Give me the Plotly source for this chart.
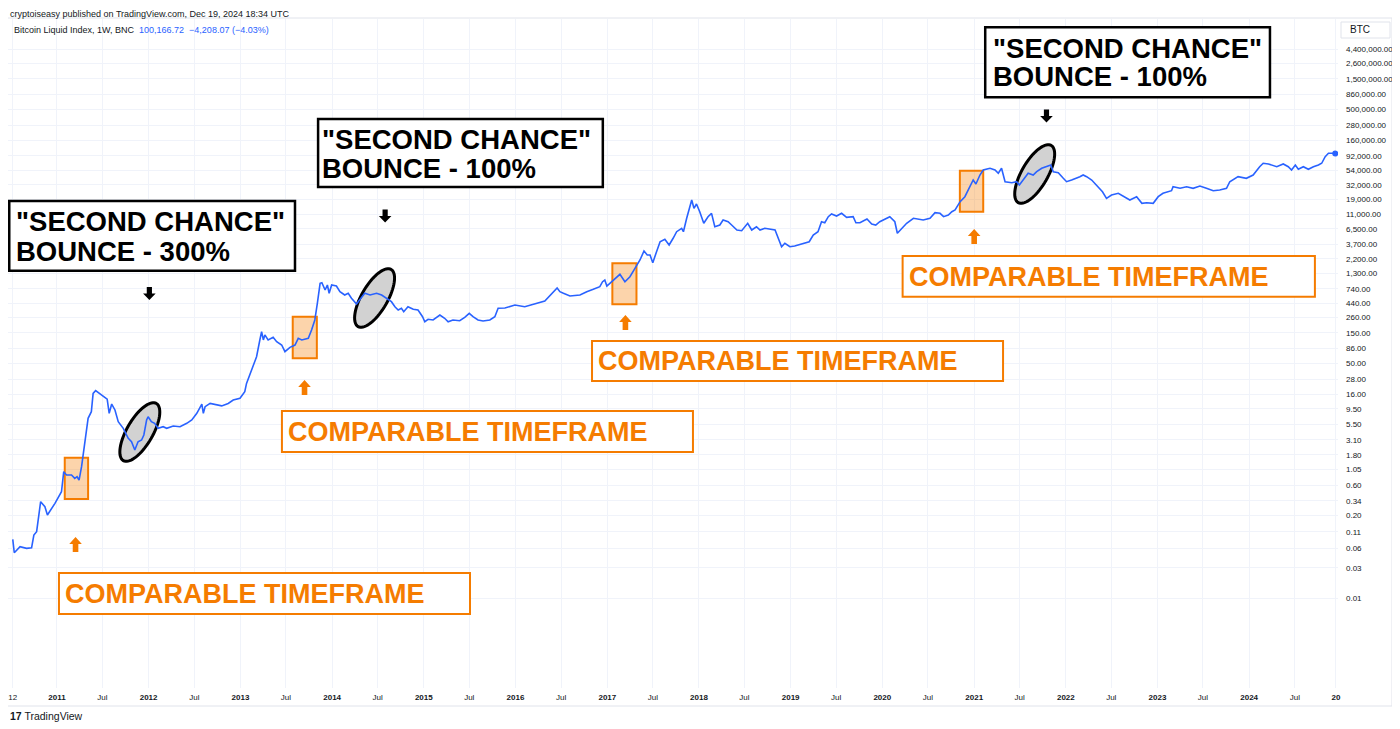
import math
import numpy as np
import plotly.graph_objects as go

# ---------------- data ----------------
dates = [
    "2010-07-09", "2010-07-15", "2010-08-07", "2010-09-02", "2010-09-22", "2010-10-01", "2010-10-12",
    "2010-10-28", "2010-11-14", "2010-11-24", "2010-12-24", "2011-01-19", "2011-01-28", "2011-02-08",
    "2011-02-28", "2011-03-13", "2011-03-22", "2011-03-30", "2011-04-09", "2011-04-22", "2011-05-05",
    "2011-05-18", "2011-05-25", "2011-06-04", "2011-06-21", "2011-07-11", "2011-07-20", "2011-07-28",
    "2011-08-07", "2011-08-20", "2011-09-02", "2011-09-22", "2011-10-12", "2011-10-25", "2011-11-07",
    "2011-11-20", "2011-12-04", "2011-12-13", "2011-12-24", "2011-12-30", "2012-01-12", "2012-01-25",
    "2012-02-08", "2012-02-28", "2012-03-13", "2012-04-08", "2012-05-05", "2012-06-01", "2012-06-21",
    "2012-07-11", "2012-07-24", "2012-07-31", "2012-08-06", "2012-08-13", "2012-09-02", "2012-09-29",
    "2012-10-18", "2012-11-13", "2012-12-03", "2012-12-30", "2013-01-18", "2013-01-25", "2013-02-20",
    "2013-03-06", "2013-03-19", "2013-03-26", "2013-04-02", "2013-04-08", "2013-04-21", "2013-05-11",
    "2013-05-25", "2013-06-14", "2013-06-27", "2013-07-17", "2013-08-06", "2013-08-19", "2013-09-02",
    "2013-09-28", "2013-10-11", "2013-10-24", "2013-11-03", "2013-11-14", "2013-11-21", "2013-12-04",
    "2013-12-13", "2013-12-20", "2013-12-30", "2014-01-18", "2014-02-01", "2014-02-20", "2014-03-06",
    "2014-03-19", "2014-04-08", "2014-04-21", "2014-05-11", "2014-06-01", "2014-06-27", "2014-07-17",
    "2014-08-06", "2014-08-25", "2014-09-08", "2014-09-21", "2014-10-04", "2014-10-13", "2014-10-30",
    "2014-11-20", "2014-12-09", "2014-12-27", "2015-01-05", "2015-01-18", "2015-02-07", "2015-03-06",
    "2015-03-25", "2015-04-08", "2015-04-27", "2015-05-24", "2015-06-13", "2015-07-01", "2015-07-16",
    "2015-08-05", "2015-08-25", "2015-09-21", "2015-10-11", "2015-10-24", "2015-11-20", "2015-12-30",
    "2016-02-07", "2016-03-19", "2016-04-27", "2016-06-15", "2016-06-26", "2016-07-10", "2016-08-05",
    "2016-09-14", "2016-10-11", "2016-11-06", "2016-12-02", "2016-12-13", "2016-12-22", "2016-12-30",
    "2017-01-24", "2017-02-20", "2017-03-12", "2017-04-01", "2017-04-21", "2017-05-11", "2017-05-27",
    "2017-06-09", "2017-06-20", "2017-07-01", "2017-07-16", "2017-07-30", "2017-08-18", "2017-09-04",
    "2017-09-20", "2017-10-04", "2017-10-24", "2017-10-31", "2017-11-13", "2017-11-26", "2017-12-03",
    "2017-12-12", "2017-12-22", "2018-01-04", "2018-01-20", "2018-02-06", "2018-02-20", "2018-03-05",
    "2018-03-25", "2018-04-07", "2018-04-27", "2018-05-11", "2018-06-01", "2018-06-20", "2018-07-14",
    "2018-07-30", "2018-08-18", "2018-09-01", "2018-09-20", "2018-10-31", "2018-11-12", "2018-11-26",
    "2018-12-09", "2018-12-29", "2019-01-17", "2019-02-20", "2019-03-16", "2019-04-01", "2019-04-20",
    "2019-05-04", "2019-05-17", "2019-05-31", "2019-06-13", "2019-07-03", "2019-07-23", "2019-08-12",
    "2019-09-07", "2019-09-18", "2019-10-04", "2019-11-01", "2019-11-20", "2019-12-06", "2019-12-22",
    "2020-01-31", "2020-02-20", "2020-03-01", "2020-03-18", "2020-04-07", "2020-05-04", "2020-06-12",
    "2020-07-09", "2020-07-29", "2020-08-18", "2020-09-01", "2020-09-20", "2020-10-04", "2020-10-17",
    "2020-11-06", "2020-11-25", "2020-12-12", "2020-12-28", "2021-01-08", "2021-01-24", "2021-02-06",
    "2021-02-20", "2021-03-05", "2021-03-25", "2021-04-07", "2021-04-20", "2021-05-04", "2021-05-31",
    "2021-06-19", "2021-06-30", "2021-07-15", "2021-08-04", "2021-08-24", "2021-09-07", "2021-09-27",
    "2021-10-17", "2021-11-02", "2021-11-12", "2021-12-02", "2021-12-22", "2022-01-04", "2022-01-24",
    "2022-02-13", "2022-02-26", "2022-03-11", "2022-03-25", "2022-04-14", "2022-05-04", "2022-05-27",
    "2022-06-12", "2022-07-02", "2022-07-29", "2022-08-24", "2022-09-13", "2022-10-10", "2022-10-31",
    "2022-11-19", "2022-12-15", "2023-01-04", "2023-01-23", "2023-02-26", "2023-03-04", "2023-04-01",
    "2023-04-27", "2023-05-23", "2023-06-19", "2023-07-15", "2023-08-11", "2023-09-06", "2023-10-03",
    "2023-10-16", "2023-11-18", "2023-12-21", "2024-01-17", "2024-02-12", "2024-02-26", "2024-03-18",
    "2024-04-20", "2024-05-16", "2024-06-05", "2024-06-18", "2024-07-03", "2024-07-15", "2024-08-04",
    "2024-08-24", "2024-09-13", "2024-10-03", "2024-10-16", "2024-10-30", "2024-11-12", "2024-11-25",
    "2024-12-09",
]
prices = [
    0.084, 0.0516, 0.0643, 0.0606, 0.062, 0.098, 0.111,
    0.329, 0.274, 0.203, 0.310, 0.472, 0.975, 0.865,
    0.865, 0.767, 0.813, 0.721, 1.17, 3.08, 6.76,
    8.59, 16.7, 18.4, 16.3, 14.0, 13.5, 8.11,
    11.35, 9.14, 5.97, 4.70, 3.27, 2.89, 2.14,
    2.89, 3.08, 3.69, 6.35, 7.16, 5.97, 5.64,
    4.70, 4.99, 4.70, 5.11, 4.99, 5.64, 6.35,
    8.11, 10.3, 11.35, 8.11, 10.3, 11.6, 10.9,
    10.6, 11.6, 13.1, 14.0, 17.7, 24.0, 43.9,
    63.1, 115.6, 156, 116, 139, 116, 128,
    109, 96.4, 75.7, 88.7, 96.4, 123, 116,
    123, 166, 239, 437, 903, 923, 708,
    849, 629, 849, 819, 667, 591, 629,
    525, 427, 493, 629, 591, 629, 591,
    525, 464, 387, 343, 365, 323, 387,
    352, 343, 269, 224, 245, 239, 286,
    254, 224, 239, 233, 263, 304, 269,
    239, 230, 239, 269, 365, 369, 411,
    387, 427, 475, 762, 667, 629, 570,
    591, 667, 727, 799, 957, 1018, 819,
    1018, 1253, 957, 1148, 1556, 2104, 2915,
    2522, 2522, 1906, 2842, 4083, 4457, 3622,
    4624, 5870, 6637, 5870, 9550, 14530, 18530,
    13710, 16030, 12110, 7960, 10110, 11430, 7030,
    7480, 8970, 8430, 7480, 6240, 6083, 7960,
    6240, 7030, 6240, 6637, 6240, 4624, 3406,
    3855, 3406, 3493, 3855, 4083, 5210, 5870,
    8430, 8130, 10110, 11150, 10370, 11430, 9890,
    10110, 8130, 8130, 9310, 7760, 7480, 8430,
    10110, 8430, 5540, 6637, 7960, 9550, 8970,
    9550, 11690, 11430, 10110, 10740, 12110, 12890,
    17420, 20890, 28310, 38260, 33110, 45840, 54950,
    56370, 58480, 54950, 48750, 58480, 35970, 34670,
    35970, 31920, 38260, 48750, 45840, 51660, 58480,
    61940, 65900, 51660, 49890, 40640, 35970, 38260,
    40640, 43150, 45840, 43150, 38260, 31920, 25010,
    19680, 22200, 23610, 20890, 18530, 20890, 16440,
    16800, 16440, 20890, 23610, 25940, 29990, 28310,
    29990, 28310, 30760, 28310, 25940, 26610, 28310,
    35970, 43150, 40640, 45840, 61940, 70150, 68390,
    61940, 68390, 61940, 54950, 65900, 56370, 61940,
    56370, 61940, 65900, 70150, 89130, 100700, 100700,
    100166.72,
]

y_tick_values = [0.01, 0.03, 0.06, 0.11, 0.20, 0.34, 0.60, 1.05, 1.80, 3.10, 5.50, 9.50, 16, 28, 50,
                 86, 150, 260, 440, 740, 1300, 2200, 3700, 6500, 11000, 19000, 32000, 54000, 92000,
                 160000, 280000, 500000, 860000, 1500000, 2600000, 4400000]
y_tick_labels = [f"{v:,.2f}" for v in y_tick_values]

x_tick_dates = ["2010-07-09"]
x_tick_labels = ["12"]
for yr in range(2011, 2025):
    x_tick_dates += [f"{yr}-01-01", f"{yr}-07-01"]
    x_tick_labels += [f"<b>{yr}</b>", "Jul"]
x_tick_dates.append("2024-12-12")
x_tick_labels.append("<b>20</b>")

# annotation anchors (date, price)
highlight_ranges = [  # comparable timeframe rectangles: start, end, low, high
    ("2011-02-01", "2011-05-05", 0.362, 1.62),
    ("2013-07-28", "2013-11-01", 59.6, 269),
    ("2017-01-21", "2017-04-27", 422, 1866),
    ("2020-11-05", "2021-02-06", 12110, 53580),
]
bounce_centers = [("2011-11-27", 4.11), ("2014-06-19", 530), ("2021-08-30", 47530)]
black_arrow_at = [("2012-01-04", 624), ("2014-07-31", 10370), ("2021-10-16", 390000)]
orange_arrow_at = [("2011-03-16", 0.0697), ("2013-09-13", 20.6), ("2017-03-14", 218), ("2021-01-01", 4930)]
orange_boxes = [  # x0, x1, low, high, text x, text price
    ("2011-01-09", "2015-07-04", 0.0056, 0.0248, "2011-02-06", 0.01156),
    ("2013-06-15", "2017-12-08", 1.99, 8.81, "2013-07-13", 4.11),
    ("2016-11-01", "2021-04-26", 26.1, 111.5, "2016-11-28", 54.0),
    ("2020-03-22", "2024-09-19", 556, 2432, "2020-04-20", 1148),
]
black_boxes = [  # x0, x1, low, high, text x, line1 price, line2 price, bounce
    ("2010-06-25", "2013-08-06", 1426, 17860, "2010-07-26", 8650, 2842, "300%"),
    ("2013-11-06", "2016-12-14", 29650, 349000, "2013-11-26", 169000, 59100, "100%"),
    ("2021-02-14", "2024-03-24", 767000, 9.71e6, "2021-03-19", 4.54e6, 1.62e6, "100%"),
]

# ---------------- figure ----------------
# The page body has an 8px margin, so the figure covers page pixels 8..1400 x 8..729.
OFF = 8
W, H = 1400 - OFF, 729 - OFF
ML, MR, MT, MB = 0, 62, 11, 41
Y_RANGE = [-3.417, 7.118]
X_RANGE = ["2010-06-20", "2024-12-20"]
BLUE = "#2962ff"
ORANGE = "#f57c00"
TXT = "#131722"
BIG_FONT = "Liberation Sans, Arial, sans-serif"
UI_FONT = "Liberation Sans, Arial, sans-serif"


def px_x(px):
    return (px - OFF - ML) / (W - ML - MR)


def px_y(py):
    return (OFF + H - MB - py) / (H - MT - MB)


fig = go.Figure()
fig.add_trace(go.Scatter(x=dates, y=prices, mode="lines",
                         line=dict(color=BLUE, width=1.6), showlegend=False, hoverinfo="skip"))
fig.add_trace(go.Scatter(x=dates[-1:], y=prices[-1:], mode="markers",
                         marker=dict(color=BLUE, size=6), showlegend=False, hoverinfo="skip"))

shapes = []
for x0, x1, lo, hi in highlight_ranges:
    shapes.append(dict(type="rect", xref="x", yref="y", x0=x0, x1=x1, y0=lo, y1=hi,
                       line=dict(color=ORANGE, width=2), fillcolor="rgba(245,124,0,0.33)",
                       layer="between"))

a, b, th = 33.0, 13.0, math.radians(60)
t = np.linspace(0, 2 * np.pi, 73)
ex = a * np.cos(t) * math.cos(th) - b * np.sin(t) * math.sin(th)
ey = a * np.cos(t) * math.sin(th) + b * np.sin(t) * math.cos(th)
ell_path = "M " + " L ".join(f"{x:.2f},{y:.2f}" for x, y in zip(ex, ey)) + " Z"
for d, p in bounce_centers:
    shapes.append(dict(type="path", xref="x", yref="y", xsizemode="pixel", ysizemode="pixel",
                       xanchor=d, yanchor=p, path=ell_path,
                       line=dict(color="black", width=3), fillcolor="rgba(208,208,208,0.95)",
                       layer="between"))

down_arrow = "M 0,-6.5 L 6.3,0 L 2.6,0 L 2.6,6.5 L -2.6,6.5 L -2.6,0 L -6.3,0 Z"
up_arrow = "M 0,7.5 L 6.3,0.5 L 2.8,0.5 L 2.8,-7.5 L -2.8,-7.5 L -2.8,0.5 L -6.3,0.5 Z"
for d, p in black_arrow_at:
    shapes.append(dict(type="path", xref="x", yref="y", xsizemode="pixel", ysizemode="pixel",
                       xanchor=d, yanchor=p, path=down_arrow, line=dict(width=0), fillcolor="black"))
for d, p in orange_arrow_at:
    shapes.append(dict(type="path", xref="x", yref="y", xsizemode="pixel", ysizemode="pixel",
                       xanchor=d, yanchor=p, path=up_arrow, line=dict(width=0), fillcolor=ORANGE))

annotations = []
for x0, x1, lo, hi, tx, tp in orange_boxes:
    shapes.append(dict(type="rect", xref="x", yref="y", x0=x0, x1=x1, y0=lo, y1=hi,
                       line=dict(color=ORANGE, width=2), fillcolor="white"))
    annotations.append(dict(x=tx, y=math.log10(tp), xref="x", yref="y", text="<b>COMPARABLE TIMEFRAME</b>",
                            showarrow=False, xanchor="left", yanchor="middle", xshift=-3,
                            font=dict(family=BIG_FONT, size=27, color=ORANGE)))
for x0, x1, lo, hi, tx, p1, p2, pct in black_boxes:
    shapes.append(dict(type="rect", xref="x", yref="y", x0=x0, x1=x1, y0=lo, y1=hi,
                       line=dict(color="black", width=2.5), fillcolor="white"))
    annotations.append(dict(x=tx, y=math.log10(p1), xref="x", yref="y", text='<b>"SECOND CHANCE"</b>',
                            showarrow=False, xanchor="left", yanchor="middle", xshift=-3,
                            font=dict(family=BIG_FONT, size=27.5, color="black")))
    annotations.append(dict(x=tx, y=math.log10(p2), xref="x", yref="y", text=f"<b>BOUNCE - {pct}</b>",
                            showarrow=False, xanchor="left", yanchor="middle", xshift=-3,
                            font=dict(family=BIG_FONT, size=27.5, color="black")))

# chrome: outer frame, BTC box, header and footer texts
shapes.append(dict(type="rect", xref="paper", yref="paper", x0=px_x(4), x1=px_x(1392),
                   y0=px_y(706), y1=px_y(18), line=dict(color="#e0e3eb", width=1), layer="below"))
shapes.append(dict(type="rect", xref="paper", yref="paper", x0=px_x(1341), x1=px_x(1390),
                   y0=px_y(38), y1=px_y(22), line=dict(color="#e0e3eb", width=1), fillcolor="white"))
annotations.append(dict(x=px_x(1348), y=px_y(30), xref="paper", yref="paper", text="BTC",
                        showarrow=False, xanchor="left", yanchor="middle",
                        font=dict(family=UI_FONT, size=10, color=TXT)))
annotations.append(dict(x=px_x(9), y=px_y(8), xref="paper", yref="paper",
                        text="cryptoiseasy published on TradingView.com, Dec 19, 2024 18:34 UTC",
                        showarrow=False, xanchor="left", yanchor="top", borderpad=0,
                        font=dict(family=UI_FONT, size=9, color=TXT)))
annotations.append(dict(x=px_x(12), y=px_y(30), xref="paper", yref="paper",
                        text="Bitcoin Liquid Index, 1W, BNC\u00a0\u00a0<span style='color:#2962ff'>100,166.72"
                             "\u00a0\u00a0\u22124,208.07 (\u22124.03%)</span>",
                        showarrow=False, xanchor="left", yanchor="middle",
                        font=dict(family=UI_FONT, size=9, color=TXT)))
annotations.append(dict(x=px_x(8), y=px_y(716), xref="paper", yref="paper",
                        text="<b>17</b> TradingView", showarrow=False, xanchor="left", yanchor="middle",
                        font=dict(family=UI_FONT, size=10.5, color=TXT)))

fig.update_layout(
    width=W, height=H,
    margin=dict(l=ML, r=MR, t=MT, b=MB, autoexpand=False),
    paper_bgcolor="white", plot_bgcolor="white",
    shapes=shapes, annotations=annotations,
    showlegend=False,
    xaxis=dict(type="date", range=X_RANGE, tickvals=x_tick_dates, ticktext=x_tick_labels,
               tickangle=0, showgrid=True, gridcolor="#f0f3fa", gridwidth=1, zeroline=False,
               showline=False, ticks="", automargin=False,
               tickfont=dict(family=UI_FONT, size=8, color=TXT), ticklabelstandoff=3),
    yaxis=dict(type="log", side="right", range=Y_RANGE, tickvals=y_tick_values, ticktext=y_tick_labels,
               showgrid=True, gridcolor="#f0f3fa", gridwidth=1, zeroline=False, showline=False,
               ticks="", automargin=False,
               tickfont=dict(family=UI_FONT, size=8, color=TXT), ticklabelstandoff=7),
)

fig.write_html("out.html")
